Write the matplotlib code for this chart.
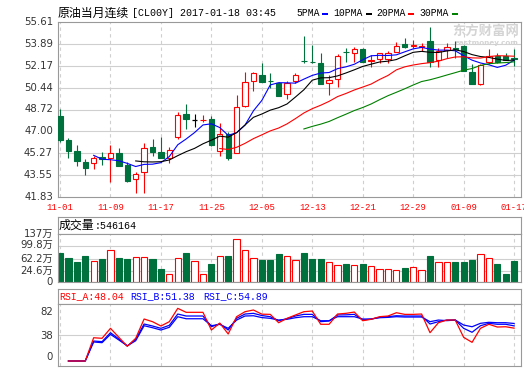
import numpy as np
import pandas as pd
import matplotlib
matplotlib.use("Agg")
import matplotlib.pyplot as plt
from matplotlib.patches import Rectangle

W, H = 524, 369

# ---- values (daily candles 2016-11-01 .. 2017-01-17) ----
date_labels = ['11-01', '11-09', '11-17', '11-25', '12-05',
               '12-13', '12-21', '12-29', '01-09', '01-17']
date_idx = [0, 6, 12, 18, 24, 30, 36, 42, 48, 54]

opens = [48.21, 46.29, 45.45, 44.59, 44.48, 44.98, 44.88, 45.30, 44.35, 43.22,
         43.77, 45.77, 45.37, 44.93, 46.58, 48.34, 47.87, 47.88, 47.95, 45.43,
         46.79, 45.27, 49.02, 50.99, 51.44, 51.00, 50.81, 49.92, 50.96, 52.53,
         52.47, 52.36, 50.78, 51.12, 53.23, 53.14, 53.48, 52.50, 52.67, 52.67,
         53.27, 53.88, 53.70, 53.66, 54.14, 52.62, 53.40, 53.56, 53.74, 51.70,
         50.73, 52.48, 52.96, 52.96, 52.77]
closes = [46.34, 45.48, 44.69, 44.14, 44.90, 44.82, 45.27, 44.30, 43.09, 43.67,
          45.66, 45.35, 44.90, 45.51, 48.29, 47.95, 47.87, 47.90, 45.95, 46.82,
          44.88, 48.92, 50.89, 51.57, 50.91, 50.98, 49.81, 50.83, 51.44, 52.50,
          52.45, 50.73, 51.04, 52.96, 53.21, 53.48, 52.48, 52.62, 53.14, 53.14,
          53.74, 53.67, 53.78, 53.72, 52.48, 53.33, 53.67, 53.52, 51.78, 50.73,
          52.22, 52.96, 52.48, 52.64, 52.73]
highs = [48.76, 46.50, 45.93, 44.82, 45.08, 45.35, 45.93, 45.66, 44.61, 43.82,
         46.06, 46.37, 46.58, 45.79, 48.50, 49.15, 48.34, 48.26, 48.21, 47.63,
         46.92, 49.86, 51.65, 51.70, 52.36, 51.62, 50.91, 50.96, 51.62, 54.51,
         53.80, 53.14, 51.44, 53.07, 53.59, 53.67, 53.59, 53.00, 53.20, 53.33,
         54.06, 54.37, 54.19, 53.93, 55.24, 53.59, 53.93, 54.11, 53.80, 52.28,
         52.28, 53.48, 53.14, 53.14, 53.48]
lows = [46.19, 44.93, 44.30, 43.56, 44.03, 44.35, 43.03, 44.25, 42.99, 42.17,
        42.17, 45.06, 44.88, 44.53, 46.40, 47.16, 47.34, 47.76, 45.85, 45.08,
        44.72, 45.27, 48.95, 50.18, 50.91, 50.39, 49.81, 49.55, 50.78, 52.41,
        52.41, 50.73, 49.86, 50.47, 52.48, 52.48, 52.48, 52.09, 52.36, 52.36,
        53.27, 53.54, 53.54, 53.33, 52.09, 52.09, 52.75, 52.80, 51.78, 50.73,
        50.65, 52.28, 52.36, 52.60, 52.14]

# volume in 万
volume = [80.6, 64.4, 53.1, 70.5, 55.2, 61.3, 88.9, 64.4, 61.3, 66.6,
          66.6, 61.3, 30.7, 15.4, 63.5, 80.6, 55.2, 15.4, 46.0, 69.6,
          70.5, 121.7, 88.0, 63.5, 58.3, 58.3, 76.7, 69.6, 57.4, 79.7,
          60.4, 60.4, 52.2, 42.0, 46.0, 42.0, 46.0, 39.0, 29.8, 29.8,
          26.7, 33.8, 36.0, 26.7, 70.5, 52.2, 52.2, 52.2, 52.2, 58.3,
          76.7, 64.4, 46.0, 15.4, 54.6]

nan = np.nan
rsi_a = [nan, 0, 0, 0, 34.0, 33.2, 47.8, 34.6, 21.5, 33.2,
         61.4, 57.5, 51.2, 57.5, 77.0, 71.2, 71.2, 71.2, 45.3, 55.5,
         39.5, 64.8, 72.1, 74.6, 68.5, 68.2, 56.0, 62.4, 67.3, 72.1,
         73.1, 53.7, 53.7, 68.7, 69.7, 71.6, 58.9, 61.0, 64.8, 65.8,
         70.6, 68.2, 68.2, 68.7, 41.4, 56.0, 59.9, 59.9, 34.6, 27.3,
         47.8, 53.7, 49.7, 50.1, 48.04]
rsi_b = [nan, 0, 0, 0, 29.2, 28.3, 41.4, 32.2, 22.0, 31.7,
         54.1, 51.2, 47.8, 52.2, 68.7, 65.8, 65.8, 65.8, 50.1, 54.5,
         45.3, 62.4, 68.7, 69.7, 66.5, 64.8, 58.9, 62.0, 65.8, 68.2,
         68.2, 57.5, 58.5, 67.3, 67.5, 68.2, 59.9, 61.4, 63.8, 64.8,
         66.2, 65.8, 65.8, 65.8, 54.1, 57.5, 59.9, 59.9, 47.8, 42.0,
         51.6, 55.1, 53.7, 53.7, 51.38]
rsi_c = [nan, 0, 0, 0, 27.8, 26.8, 39.0, 30.7, 22.2, 29.7,
         51.6, 48.7, 45.3, 49.3, 64.8, 61.8, 61.8, 61.8, 51.6, 53.5,
         47.8, 59.9, 65.8, 66.2, 63.5, 62.4, 59.9, 61.0, 63.3, 64.8,
         64.8, 58.9, 58.9, 64.8, 64.8, 64.8, 61.4, 61.4, 63.3, 63.8,
         64.8, 64.3, 64.3, 64.3, 57.5, 59.9, 59.0, 59.9, 52.6, 50.1,
         55.1, 56.6, 56.0, 56.0, 54.89]

price_ticks = ['41.83', '43.55', '45.27', '47.00', '48.72',
               '50.44', '52.17', '53.89', '55.61']
vol_ticks = [-10, 24.6, 62.2, 99.8, 137]
vol_tick_labels = ['0', '24.6万', '62.2万', '99.8万', '137万']
rsi_ticks = [0, 38, 82]

RED = '#ff0000'
GREEN = '#00703c'
GRID = '#cfcfcf'
FRAME = '#999999'
MONO = 'Liberation Mono'
CJK = 'Noto Sans CJK SC'

n = len(closes)
idx = np.arange(n)
XLIM = (-0.24, 54.76)

fig = plt.figure(figsize=(W / 100, H / 100), dpi=100)
fig.patch.set_facecolor('white')


def px_axes(x0, y0, x1, y1):
    return fig.add_axes([x0 / W, 1 - y1 / H, (x1 - x0) / W, (y1 - y0) / H])


def fx(x):
    return x / W


def fy(y):
    return 1 - y / H


def frame(ax):
    ax.set_xticks([])
    ax.set_yticks([])
    for s in ax.spines.values():
        s.set_color(FRAME)
        s.set_linewidth(0.8)


def ylabels(ax, vals, labels, shifts=None, family='DejaVu Sans'):
    for k, (v, s) in enumerate(zip(vals, labels)):
        dy = shifts[k] if shifts else 0
        ax.annotate(s, xy=(0, v), xycoords=('axes fraction', 'data'),
                    xytext=(-5, dy), textcoords='offset pixels',
                    ha='right', va='center', fontsize=7.3, color='#333333',
                    family=family, annotation_clip=False)


def vgrid(ax):
    for i in date_idx:
        ax.axvline(i, color=GRID, lw=0.8, ls=(0, (3, 3)), zorder=0.5)


# ---------------- price panel ----------------
ax = px_axes(58, 22, 520.5, 197)
frame(ax)
ax.set_xlim(*XLIM)
ax.set_ylim(41.83, 55.61)
for t in price_ticks[1:-1]:
    ax.axhline(float(t), color=GRID, lw=0.8, zorder=0.5)
vgrid(ax)
ylabels(ax, [float(t) for t in price_ticks], price_ticks)

# watermark
ax.text(fx(452), fy(31), '东方财富网', transform=fig.transFigure, family=CJK,
        fontsize=9.6, fontweight='bold', color='#d4d4d4', va='center', zorder=0.6)
ax.text(fx(455), fy(43), 'eastmoney.com', transform=fig.transFigure,
        family='DejaVu Sans', fontsize=5.2, fontweight='bold', color='#d4d4d4',
        va='center', zorder=0.6)

bw = 0.64
for i in range(n):
    o, c, h, l = opens[i], closes[i], highs[i], lows[i]
    if c > o:
        col, face = RED, 'white'
    elif c < o:
        col, face = GREEN, GREEN
    else:
        col, face = 'black', 'black'
    ax.vlines(i, l, h, color=col, lw=0.8, zorder=2)
    if c == o:
        ax.hlines(c, i - bw / 2, i + bw / 2, color=col, lw=0.9, zorder=3)
    else:
        ax.add_patch(Rectangle((i - bw / 2, min(o, c)), bw, abs(c - o),
                               facecolor=face, edgecolor=col, lw=0.8, zorder=3))

cs = pd.Series(closes)
ma_colors = {5: '#0000ff', 10: '#000000', 20: '#ff0000', 30: '#008000'}
for p, col in ma_colors.items():
    ax.plot(idx, cs.rolling(p).mean(), color=col, lw=0.8, zorder=4)

for i, s in zip(date_idx, date_labels):
    ax.annotate(s, xy=(i, 0), xycoords=('data', 'axes fraction'),
                xytext=(0, -10), textcoords='offset pixels', ha='center',
                va='center', fontsize=6.4, color=RED, family=MONO,
                annotation_clip=False)

# header
fig.text(fx(58), fy(13), '原油当月连续', family=CJK, fontsize=8.6, va='center')
fig.text(fx(131.5), fy(13), '[CL00Y] 2017-01-18 03:45', family=MONO,
         fontsize=7.2, va='center')
legend_items = [('5PMA', 296, 322, '#0000ff'), ('10PMA', 333, 366, '#000000'),
                ('20PMA', 376, 408, '#ff0000'), ('30PMA', 419, 452, '#008000')]
for lab, tx, rx, col in legend_items:
    fig.text(fx(tx), fy(13), lab, family=MONO, fontsize=7.0, va='center')
    fig.add_artist(Rectangle((fx(rx), fy(15)), 6 / W, 2.4 / H,
                             transform=fig.transFigure, color=col, lw=0))

# ---------------- volume panel ----------------
axvt = px_axes(58, 216.7, 520.5, 234.3)
frame(axvt)
axvt.text(fx(59), fy(225.5), '成交量', transform=fig.transFigure, family=CJK,
          fontsize=8.6, va='center')
axvt.text(fx(95), fy(225.5), ':546164', transform=fig.transFigure, family=MONO,
          fontsize=7.2, va='center')

axv = px_axes(58, 234.3, 520.5, 282.3)
frame(axv)
axv.set_xlim(*XLIM)
axv.set_ylim(vol_ticks[0], vol_ticks[-1])
for t in vol_ticks[1:-1]:
    axv.axhline(t, color=GRID, lw=0.8, zorder=0.5)
vgrid(axv)
ylabels(axv, vol_ticks, vol_tick_labels, shifts=[0, 0, 0, 2, 0],
        family=['DejaVu Sans', CJK])
vbase = vol_ticks[0]
for i in range(n):
    up = closes[i] >= opens[i]
    axv.bar(i, volume[i] - vbase, bottom=vbase, width=0.74,
            facecolor='white' if up else GREEN,
            edgecolor=RED if up else GREEN, lw=0.8, zorder=2)

# ---------------- RSI panel ----------------
axrt = px_axes(58, 289.3, 520.5, 303.7)
frame(axrt)
for s, x0, col in [('RSI_A:48.04', 59, RED), ('RSI_B:51.38', 130, '#0000ff'),
                   ('RSI_C:54.89', 203, '#0000ff')]:
    axrt.text(fx(x0), fy(296.5), s, transform=fig.transFigure, family=MONO,
              fontsize=7.1, color=col, va='center')

axr = px_axes(58, 303.7, 520.5, 366)
frame(axr)
axr.set_xlim(*XLIM)
axr.set_ylim(-7.3, 83.8)
axr.axhline(38, color=GRID, lw=0.8, zorder=0.5)
vgrid(axr)
ylabels(axr, rsi_ticks, [str(t) for t in rsi_ticks], shifts=[3.7, -1.3, -7])
axr.plot(idx, rsi_c, color='#0000ff', lw=0.9, zorder=2)
axr.plot(idx, rsi_b, color='#0000ff', lw=0.9, zorder=2)
axr.plot(idx, rsi_a, color=RED, lw=0.9, zorder=3)

fig.savefig('out.png', dpi=100, facecolor='white')
